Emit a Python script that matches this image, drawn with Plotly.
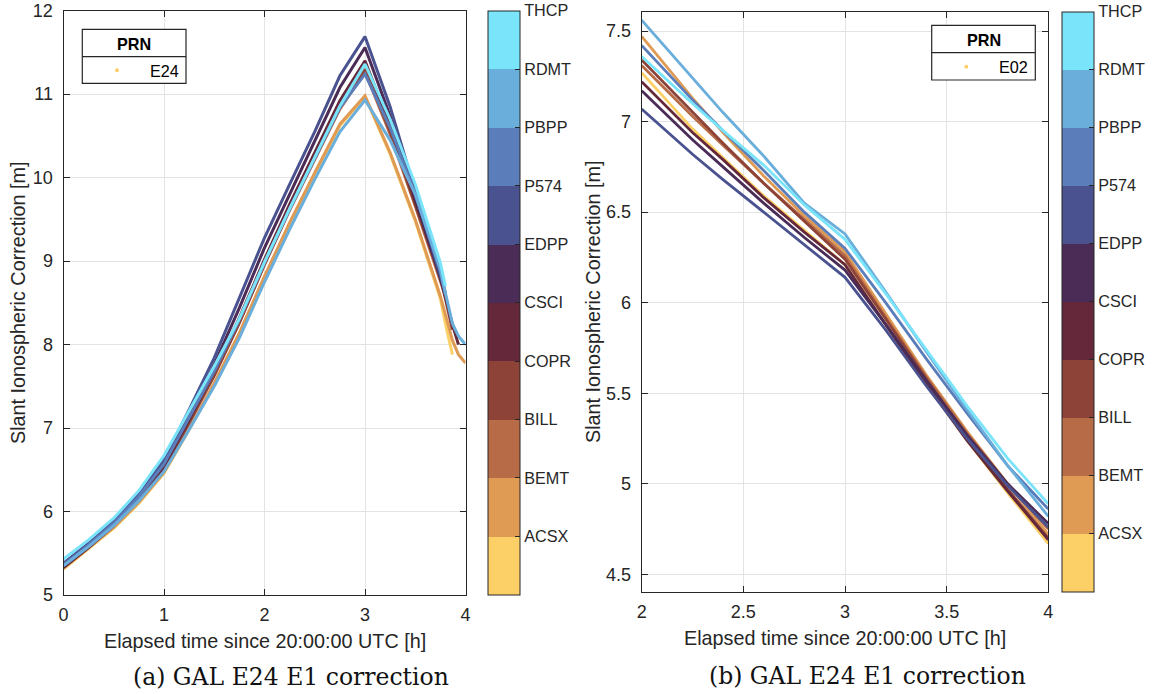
import plotly.graph_objects as go

# ---------------- data ----------------
stations = ["ACSX", "BEMT", "BILL", "COPR", "CSCI", "EDPP", "P574", "PBPP", "RDMT", "THCP"]
station_colors = ["#FDD067", "#DF9A54", "#B86B47", "#8D4338", "#64283A",
                  "#4A2C57", "#4A5290", "#5B7EBB", "#6AAEDB", "#7AE4FA"]

left_t = [0.0, 0.25, 0.5, 0.75, 1.0, 1.25, 1.5, 1.75, 2.0, 2.25, 2.5, 2.75,
          3.0, 3.25, 3.5, 3.75, 3.8, 3.87, 3.93, 4.0]
left_ACSX = [5.31, 5.55, 5.80, 6.10, 6.46, 6.98, 7.52, 8.12, 8.80, 9.44, 10.04, 10.62, 10.97, 10.28, 9.48, 8.55, 8.25, 7.88, None, None]
left_BEMT = [5.32, 5.56, 5.81, 6.11, 6.47, 6.99, 7.54, 8.14, 8.82, 9.46, 10.06, 10.64, 10.98, 10.30, 9.50, 8.58, 8.35, 8.05, 7.88, 7.78]
left_BILL = [5.34, 5.58, 5.84, 6.15, 6.53, 7.08, 7.64, 8.27, 8.96, 9.61, 10.22, 10.82, 11.27, 10.52, 9.66, 8.78, 8.58, None, None, None]
left_COPR = [5.33, 5.57, 5.83, 6.14, 6.52, 7.06, 7.63, 8.26, 8.96, 9.62, 10.24, 10.85, 11.30, 10.55, 9.68, 8.80, 8.55, 8.18, None, None]
left_CSCI = [5.33, 5.57, 5.84, 6.15, 6.54, 7.10, 7.68, 8.32, 9.02, 9.68, 10.30, 10.92, 11.40, 10.62, 9.72, 8.82, 8.58, 8.24, 8.00, None]
left_EDPP = [5.36, 5.60, 5.87, 6.19, 6.58, 7.16, 7.76, 8.44, 9.16, 9.80, 10.43, 11.08, 11.56, 10.74, 9.76, 8.80, 8.60, None, None, None]
left_P574 = [5.38, 5.62, 5.89, 6.22, 6.62, 7.22, 7.84, 8.55, 9.28, 9.92, 10.55, 11.22, 11.69, 10.85, 9.85, 8.85, 8.62, None, None, None]
left_PBPP = [5.36, 5.60, 5.86, 6.18, 6.57, 7.12, 7.68, 8.30, 8.98, 9.62, 10.24, 10.84, 11.24, 10.60, 9.80, 8.88, 8.60, None, None, None]
left_RDMT = [5.35, 5.58, 5.83, 6.13, 6.48, 6.98, 7.50, 8.08, 8.75, 9.38, 9.98, 10.55, 10.93, 10.45, 9.80, 8.90, 8.62, 8.25, 8.10, 8.00]
left_THCP = [5.43, 5.66, 5.92, 6.25, 6.67, 7.20, 7.74, 8.31, 8.99, 9.63, 10.25, 10.86, 11.36, 10.70, 9.92, 8.98, 8.70, None, None, None]

right_t = [2.0, 2.25, 2.4, 2.6, 2.8, 3.0, 3.2, 3.4, 3.6, 3.8, 4.0]
right_ACSX = [7.27, 6.96, 6.80, 6.59, 6.40, 6.21, 5.88, 5.55, 5.24, 4.95, 4.67]
right_BEMT = [7.47, 7.13, 6.94, 6.70, 6.48, 6.28, 5.94, 5.60, 5.29, 5.00, 4.72]
right_BILL = [7.31, 7.03, 6.87, 6.66, 6.46, 6.26, 5.92, 5.59, 5.28, 5.00, 4.75]
right_COPR = [7.34, 7.05, 6.88, 6.66, 6.45, 6.24, 5.91, 5.58, 5.26, 4.97, 4.70]
right_CSCI = [7.22, 6.94, 6.79, 6.58, 6.39, 6.21, 5.88, 5.55, 5.24, 4.96, 4.69]
right_EDPP = [7.17, 6.90, 6.75, 6.55, 6.36, 6.18, 5.88, 5.57, 5.27, 5.00, 4.78]
right_P574 = [7.07, 6.82, 6.68, 6.50, 6.32, 6.14, 5.85, 5.54, 5.25, 4.99, 4.76]
right_PBPP = [7.42, 7.12, 6.95, 6.73, 6.50, 6.30, 6.00, 5.69, 5.39, 5.10, 4.86]
right_RDMT = [7.56, 7.24, 7.05, 6.81, 6.55, 6.38, 6.06, 5.73, 5.41, 5.10, 4.82]
right_THCP = [7.36, 7.10, 6.95, 6.76, 6.54, 6.35, 6.05, 5.74, 5.43, 5.14, 4.89]

left_series = [left_ACSX, left_BEMT, left_BILL, left_COPR, left_CSCI,
               left_EDPP, left_P574, left_PBPP, left_RDMT, left_THCP]
right_series = [right_ACSX, right_BEMT, right_BILL, right_COPR, right_CSCI,
                right_EDPP, right_P574, right_PBPP, right_RDMT, right_THCP]

left_xticks = [0, 1, 2, 3, 4]
left_yticks = [5, 6, 7, 8, 9, 10, 11, 12]
right_xticks = [2, 2.5, 3, 3.5, 4]
right_yticks = [4.5, 5, 5.5, 6, 6.5, 7, 7.5]

x_title = "Elapsed time since 20:00:00 UTC [h]"
y_title = "Slant Ionospheric Correction [m]"
captions = ["(a) GAL E24 E1 correction", "(b) GAL E24 E1 correction"]
legend_title = "PRN"
legend_entries = ["E24", "E02"]

# ---------------- layout helpers ----------------
W, H = 1156, 694
def fx(px):
    return px / W
def fy(py):
    return 1 - py / H

FONT = "Liberation Sans, Arial, sans-serif"
FS_TICK = 18
FS_LABEL = 19.8
FS_SMALL = 16.2
TXT = "#262626"

fig = go.Figure()

for name, col, vals in zip(stations, station_colors, left_series):
    fig.add_trace(go.Scatter(x=left_t, y=vals, mode="lines", name=name,
                             line=dict(color=col, width=3), showlegend=False,
                             xaxis="x", yaxis="y", connectgaps=False))
for name, col, vals in zip(stations, station_colors, right_series):
    fig.add_trace(go.Scatter(x=right_t, y=vals, mode="lines", name=name,
                             line=dict(color=col, width=2.8), showlegend=False,
                             xaxis="x2", yaxis="y2", connectgaps=False))

# discrete colorscale
cs = []
n = len(stations)
for i, c in enumerate(station_colors):
    cs.append([i / n, c])
    cs.append([(i + 1) / n, c])

def cbar(x0, y0, length, thick):
    return dict(x=fx(x0), xanchor="left", xpad=0, y=fy(y0), yanchor="top", ypad=0,
                len=length, lenmode="pixels", thickness=thick, thicknessmode="pixels",
                outlinewidth=1, outlinecolor=TXT, ticklabeloverflow="allow",
                tickmode="array", tickvals=list(range(1, n + 1)), ticktext=stations,
                ticks="inside", ticklen=5, tickcolor=TXT, tickwidth=1,
                tickfont=dict(family=FONT, size=FS_SMALL, color=TXT))

fig.add_trace(go.Scatter(x=[None], y=[None], mode="markers", showlegend=False, hoverinfo="skip",
                         marker=dict(color=[0], cmin=0, cmax=n, colorscale=cs, showscale=True,
                                     colorbar=cbar(487.5, 10.7, 584.3, 31.5)),
                         xaxis="x", yaxis="y"))
fig.add_trace(go.Scatter(x=[None], y=[None], mode="markers", showlegend=False, hoverinfo="skip",
                         marker=dict(color=[0], cmin=0, cmax=n, colorscale=cs, showscale=True,
                                     colorbar=cbar(1062.3, 11.7, 580.0, 32)),
                         xaxis="x2", yaxis="y2"))

axis_common = dict(showline=True, linecolor=TXT, linewidth=1, mirror="ticks",
                   ticks="inside", ticklen=6, tickcolor=TXT, showgrid=True,
                   gridcolor="#E3E3E3", gridwidth=1, zeroline=False, automargin=False,
                   ticklabeloverflow="allow",
                   tickfont=dict(family=FONT, size=FS_TICK, color=TXT))

fig.update_layout(
    width=W, height=H, margin=dict(l=0, r=0, t=0, b=0, autoexpand=False),
    paper_bgcolor="white", plot_bgcolor="white", showlegend=False,
    xaxis=dict(domain=[fx(63.5), fx(465.5)], range=[0, 4], tickvals=left_xticks,
               anchor="y", ticklabelstandoff=3, **axis_common),
    yaxis=dict(domain=[fy(595), fy(10.7)], range=[5, 12], tickvals=left_yticks,
               anchor="x", ticklabelstandoff=6, **axis_common),
    xaxis2=dict(domain=[fx(641.7), fx(1048.3)], range=[2, 4], tickvals=right_xticks,
                anchor="y2", ticklabelstandoff=4, **axis_common),
    yaxis2=dict(domain=[fy(591.7), fy(11.7)], range=[4.404, 7.607], tickvals=right_yticks,
                anchor="x2", ticklabelstandoff=6, **axis_common),
)

annotations = []
shapes = []
# axis titles
for cx, cy in [(264.5, 641), (845, 638)]:
    annotations.append(dict(x=fx(cx), y=fy(cy), xref="paper", yref="paper", text=x_title,
                            showarrow=False, xanchor="center", yanchor="middle",
                            font=dict(family=FONT, size=FS_LABEL, color=TXT)))
for cx, cy in [(18, 303), (593, 302)]:
    annotations.append(dict(x=fx(cx), y=fy(cy), xref="paper", yref="paper", text=y_title,
                            showarrow=False, xanchor="center", yanchor="middle", textangle=-90,
                            font=dict(family=FONT, size=FS_LABEL, color=TXT)))
# captions
for cap, cx, cy in zip(captions, [290.5, 867], [677, 676]):
    annotations.append(dict(x=fx(cx), y=fy(cy), xref="paper", yref="paper", text=cap,
                            showarrow=False, xanchor="center", yanchor="middle",
                            font=dict(family="DejaVu Serif, serif", size=23.5, color="#111111")))
# legend boxes
legend_boxes = [
    dict(x0=82.3, x1=186, y0=29.3, y1=83.3, div=56.7, tx=134, ty=44, dx=117, dy=70.3, ex=164, ey=71),
    dict(x0=931.7, x1=1035.3, y0=25.3, y1=80, div=52.7, tx=983.5, ty=40, dx=966.3, dy=66.7, ex=1013.5, ey=66.7),
]
for lb, entry in zip(legend_boxes, legend_entries):
    shapes.append(dict(type="rect", xref="paper", yref="paper",
                       x0=fx(lb["x0"]), x1=fx(lb["x1"]), y0=fy(lb["y1"]), y1=fy(lb["y0"]),
                       line=dict(color=TXT, width=1.2), fillcolor="white", layer="above"))
    shapes.append(dict(type="line", xref="paper", yref="paper",
                       x0=fx(lb["x0"]), x1=fx(lb["x1"]), y0=fy(lb["div"]), y1=fy(lb["div"]),
                       line=dict(color=TXT, width=1.2), layer="above"))
    shapes.append(dict(type="circle", xref="paper", yref="paper",
                       x0=fx(lb["dx"] - 2), x1=fx(lb["dx"] + 2), y0=fy(lb["dy"] + 2), y1=fy(lb["dy"] - 2),
                       line=dict(width=0), fillcolor=station_colors[0], layer="above"))
    annotations.append(dict(x=fx(lb["tx"]), y=fy(lb["ty"]), xref="paper", yref="paper",
                            text="<b>" + legend_title + "</b>", showarrow=False,
                            xanchor="center", yanchor="middle",
                            font=dict(family=FONT, size=FS_SMALL, color="#000000")))
    annotations.append(dict(x=fx(lb["ex"]), y=fy(lb["ey"]), xref="paper", yref="paper",
                            text=entry, showarrow=False, xanchor="center", yanchor="middle",
                            font=dict(family=FONT, size=FS_SMALL, color="#000000")))

fig.update_layout(annotations=annotations, shapes=shapes)
fig.write_html("out.html",
               config={"displayModeBar": False},
               post_script="document.body.style.margin='0';document.body.style.overflow='hidden';")
